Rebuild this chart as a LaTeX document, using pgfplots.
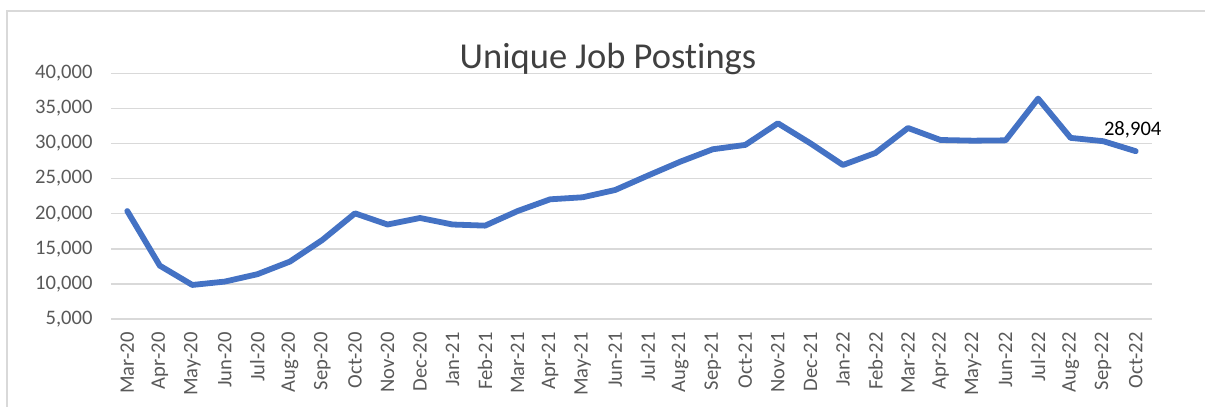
\documentclass[border=0pt]{standalone}
\usepackage{fontspec}
\setmainfont{Carlito}[Ligatures=NoCommon]
\usepackage{pgfplots}
\pgfplotsset{compat=1.18}
\usetikzlibrary{calc}
\definecolor{linecol}{HTML}{4472C4}
\definecolor{gridcol}{HTML}{D9D9D9}
\definecolor{txtcol}{HTML}{595959}
\definecolor{titlecol}{HTML}{404040}
\begin{document}
\begin{tikzpicture}[x=1pt,y=1pt]
\begin{axis}[
  name=ax,
  scale only axis, width=1041pt, height=245.7pt,
  xmin=-0.5, xmax=31.5, ymin=5000, ymax=40000,
  ytick={5000,10000,15000,20000,25000,30000,35000,40000},
  xtick={0,...,31},
  xticklabels={Mar-20,Apr-20,May-20,Jun-20,Jul-20,Aug-20,Sep-20,Oct-20,Nov-20,Dec-20,Jan-21,Feb-21,Mar-21,Apr-21,May-21,Jun-21,Jul-21,Aug-21,Sep-21,Oct-21,Nov-21,Dec-21,Jan-22,Feb-22,Mar-22,Apr-22,May-22,Jun-22,Jul-22,Aug-22,Sep-22,Oct-22},
  major tick length=0pt,
  axis line style={draw=none},
  ymajorgrids, grid style={gridcol, line width=1.5pt},
  /pgf/number format/assume math mode=true,
  /pgf/number format/1000 sep={,},
  scaled y ticks=false,
  yticklabel style={font=\fontsize{20.6}{24}\selectfont, text=txtcol, anchor=east, xshift=-15pt},
  xticklabel style={font=\fontsize{20.6}{24}\selectfont, text=txtcol, rotate=90, anchor=east, xshift=-10pt},
  clip=false,
]
\addplot[linecol, line width=5.8pt, line join=round, line cap=round] coordinates {
(0,20380) (1,12600) (2,9850) (3,10330) (4,11380) (5,13180) (6,16270) (7,20050)
(8,18460) (9,19390) (10,18460) (11,18300) (12,20380) (13,22050) (14,22340) (15,23380)
(16,25420) (17,27410) (18,29180) (19,29800) (20,32880) (21,30030) (22,26940) (23,28650)
(24,32210) (25,30500) (26,30400) (27,30450) (28,36400) (29,30800) (30,30330) (31,28904)
};
\node[anchor=south, inner sep=0, font=\fontsize{20.6}{24}\selectfont, text=black, yshift=13pt, xshift=-3pt] at (axis cs:31,28904) {28,904};
\end{axis}
\coordinate (O) at ($(ax.south west)+(-111,-88)$);
\draw[gridcol, line width=1.3pt] ($(O)+(7,-10)$) -- ($(O)+(7,396)$) -- ($(O)+(1220,396)$);
\node[anchor=base, text=titlecol, font=\fontsize{36.5}{40}\selectfont, inner sep=0] at ($(O)+(608,338)$) {Unique Job Postings};
\pgfresetboundingbox
\path[use as bounding box] (O) rectangle ($(O)+(1205,407)$);
\end{tikzpicture}
\end{document}
